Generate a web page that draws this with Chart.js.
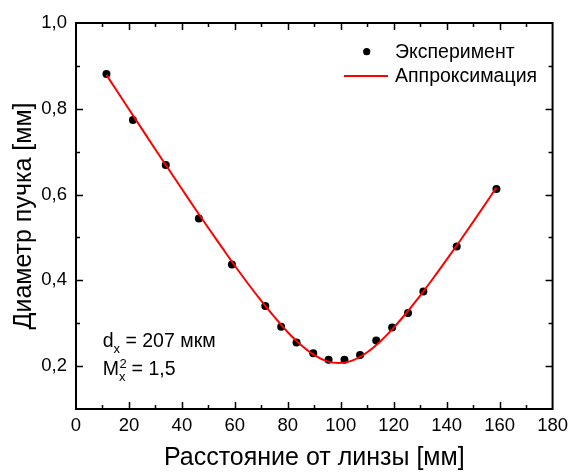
<!DOCTYPE html>
<html>
<head>
<meta charset="utf-8">
<script src="https://cdn.jsdelivr.net/npm/chart.js@4/dist/chart.umd.min.js"></script>
<style>
  html, body { margin: 0; padding: 0; background: #fff; }
  #wrap { width: 574px; height: 473px; position: relative; }
</style>
</head>
<body>
<div id="wrap"><canvas id="c" width="574" height="473"></canvas></div>
<script>
// Measured beam diameter vs. distance from the lens
const distanceMm = [11.5, 21.5, 33.9, 46.4, 58.9, 71.5, 77.5, 83.3, 89.6, 95.4, 101.4, 107.3, 113.4, 119.4, 125.4, 131.2, 143.8, 158.8];
const diameterMm = [0.881, 0.774, 0.669, 0.544, 0.437, 0.340, 0.292, 0.255, 0.230, 0.215, 0.215, 0.226, 0.260, 0.290, 0.324, 0.374, 0.479, 0.613];

// Approximation curve (beam caustic)
const fitDistanceMm = [11.5, 15, 20, 25, 30, 35, 40, 45, 50, 55, 60, 65, 70, 75, 80, 85, 90, 95, 99.2, 105, 110, 115, 120, 125, 130, 135, 140, 145, 150, 155, 158.8];
const fitDiameterMm = [0.879, 0.846, 0.799, 0.752, 0.705, 0.659, 0.613, 0.567, 0.522, 0.478, 0.434, 0.392, 0.352, 0.314, 0.279, 0.249, 0.2256, 0.211, 0.207, 0.2146, 0.2322, 0.258, 0.2897, 0.3256, 0.3645, 0.4055, 0.4481, 0.4918, 0.5364, 0.5816, 0.6164];

// Axis ranges and labels
const xMin = 0, xMax = 180, xStep = 10, xLabelEvery = 20;
const yMin = 0.1, yMax = 1.0, yStep = 0.1;
const xTitle = 'Расстояние от линзы [мм]';
const yTitle = 'Диаметр пучка [мм]';
const seriesNames = ['Эксперимент', 'Аппроксимация'];

const FONT = '"Liberation Sans", Arial, sans-serif';

const toPoints = (xs, ys) => xs.map((x, i) => ({ x, y: ys[i] }));

// Frame, inward ticks, legend and beam parameters
const decorations = {
  id: 'decorations',
  afterDraw(chart) {
    const ctx = chart.ctx;
    const { left, right, top, bottom } = chart.chartArea;
    const xs = chart.scales.x, ys = chart.scales.y;
    ctx.save();
    ctx.strokeStyle = '#000';

    // inward tick marks on all four sides
    ctx.lineWidth = 1.5;
    ctx.beginPath();
    xs.ticks.forEach(t => {
      const v = t.value;
      if (v <= xMin || v >= xMax) return;
      const px = Math.round(xs.getPixelForValue(v)) + 0.5;
      const len = Math.round(v) % xLabelEvery === 0 ? 7 : 4;
      ctx.moveTo(px, bottom); ctx.lineTo(px, bottom - len);
      ctx.moveTo(px, top); ctx.lineTo(px, top + len);
    });
    ys.ticks.forEach(t => {
      const v = t.value;
      if (v <= yMin + 1e-6 || v >= yMax - 1e-6) return;
      const py = Math.round(ys.getPixelForValue(v)) + 0.5;
      const len = Math.round(v * 10) % 2 === 0 ? 7 : 4;
      ctx.moveTo(left, py); ctx.lineTo(left + len, py);
      ctx.moveTo(right, py); ctx.lineTo(right - len, py);
    });
    ctx.stroke();

    // plot frame
    ctx.lineWidth = 2;
    ctx.strokeRect(left, top, right - left, bottom - top);

    // legend
    const ds = chart.data.datasets;
    ctx.font = '19.5px ' + FONT;
    ctx.fillStyle = '#000';
    ctx.textBaseline = 'middle';
    ctx.textAlign = 'left';
    ctx.beginPath();
    ctx.arc(366.7, 51.7, 3.6, 0, Math.PI * 2);
    ctx.fillStyle = ds[0].backgroundColor;
    ctx.fill();
    ctx.fillStyle = '#000';
    ctx.fillText(ds[0].label, 395, 52.5);
    ctx.strokeStyle = ds[1].borderColor;
    ctx.lineWidth = 2;
    ctx.beginPath();
    ctx.moveTo(344, 76); ctx.lineTo(388, 76);
    ctx.stroke();
    ctx.fillText(ds[1].label, 395, 77);

    // beam parameters
    const main = '19.5px ' + FONT, small = '13px ' + FONT;
    ctx.textBaseline = 'alphabetic';
    let x = 102.7;
    ctx.font = main; ctx.fillText('d', x, 346.7); x += ctx.measureText('d').width;
    ctx.font = small; ctx.fillText('x', x, 353); x += ctx.measureText('x').width;
    ctx.font = main; ctx.fillText(' = 207 мкм', x, 346.7);

    x = 102.7;
    ctx.font = main; ctx.fillText('M', x, 375); x += ctx.measureText('M').width;
    ctx.font = small; ctx.fillText('2', x + 0.5, 368); ctx.fillText('x', x, 381);
    x += Math.max(ctx.measureText('2').width, ctx.measureText('x').width);
    ctx.font = main; ctx.fillText(' = 1,5', x, 375);
    ctx.restore();
  }
};

new Chart(document.getElementById('c'), {
  type: 'line',
  data: {
    datasets: [
      {
        label: seriesNames[0],
        data: toPoints(distanceMm, diameterMm),
        showLine: false,
        pointRadius: 4,
        pointHoverRadius: 4,
        pointBackgroundColor: '#000',
        pointBorderWidth: 0,
        backgroundColor: '#000',
        borderColor: '#000',
        order: 2
      },
      {
        label: seriesNames[1],
        data: toPoints(fitDistanceMm, fitDiameterMm),
        showLine: true,
        pointRadius: 0,
        borderColor: '#ff0000',
        borderWidth: 2,
        cubicInterpolationMode: 'monotone',
        fill: false,
        order: 1
      }
    ]
  },
  options: {
    responsive: false,
    animation: false,
    devicePixelRatio: 1,
    layout: { padding: { top: 23, right: 17, left: 0, bottom: 0 } },
    plugins: {
      legend: { display: false },
      tooltip: { enabled: false }
    },
    scales: {
      x: {
        type: 'linear',
        min: xMin, max: xMax,
        grid: { display: false, drawTicks: false },
        border: { display: false },
        afterFit(s) { s.height = 64; },
        ticks: {
          stepSize: xStep,
          autoSkip: false,
          maxRotation: 0,
          padding: 6,
          color: '#000',
          font: { family: FONT, size: 18.5 },
          callback: v => (Math.round(v) % xLabelEvery === 0 ? String(Math.round(v)) : '')
        },
        title: {
          display: true,
          text: xTitle,
          color: '#000',
          font: { family: FONT, size: 25, lineHeight: 1.2 },
          padding: { top: 0, bottom: 0 }
        }
      },
      y: {
        type: 'linear',
        min: yMin, max: yMax,
        grid: { display: false, drawTicks: false },
        border: { display: false },
        afterFit(s) { s.width = 76; },
        ticks: {
          stepSize: yStep,
          autoSkip: false,
          padding: 9,
          color: '#000',
          font: { family: FONT, size: 18.5 },
          callback: v => {
            const r = Math.round(v * 10);
            return r % 2 === 0 ? (r / 10).toFixed(1).replace('.', ',') : '';
          }
        },
        title: {
          display: true,
          text: yTitle,
          color: '#000',
          font: { family: FONT, size: 25, lineHeight: 1.2 },
          padding: { top: 9, bottom: 0 }
        }
      }
    }
  },
  plugins: [decorations]
});
</script>
</body>
</html>
